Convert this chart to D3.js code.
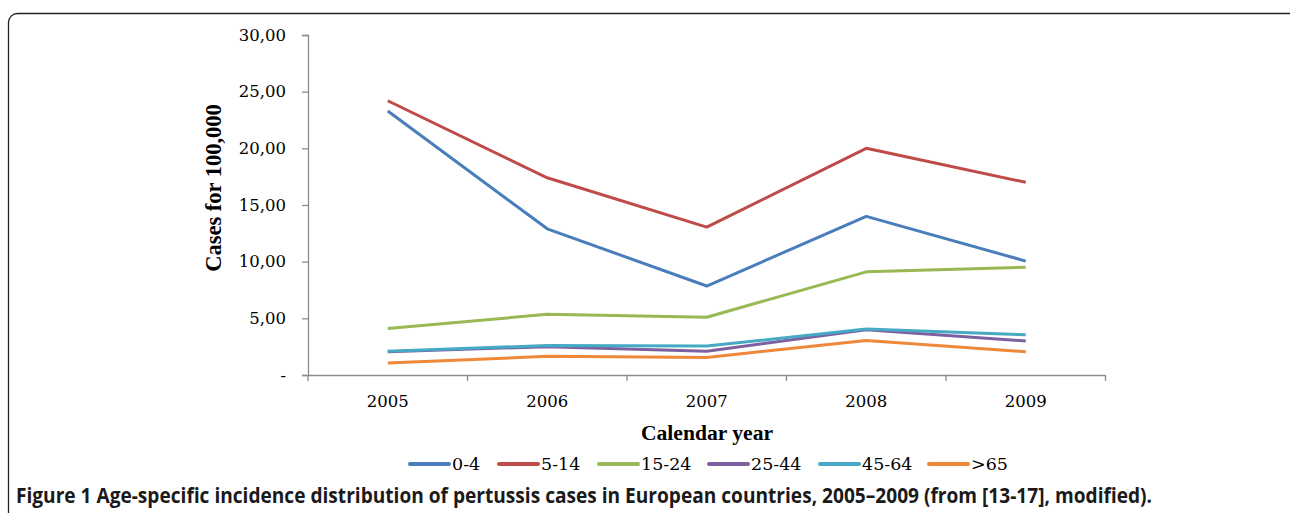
<!DOCTYPE html>
<html>
<head>
<meta charset="utf-8">
<script src="https://cdn.jsdelivr.net/npm/d3@7"></script>
<style>
  html, body { margin: 0; padding: 0; background: #fff; }
  svg { display: block; }
</style>
</head>
<body>
<svg id="chart" width="1290" height="513"></svg>
<script>
const years = ["2005", "2006", "2007", "2008", "2009"];
const seriesNames = ["0-4", "5-14", "15-24", "25-44", "45-64", ">65"];
const seriesColors = ["#4A7EBB", "#BE4B48", "#98B954", "#7D60A0", "#46AAC5", "#F0883A"];
const v0_4   = [23.3, 12.9, 7.85, 14.0, 10.05];
const v5_14  = [24.2, 17.4, 13.05, 20.0, 17.0];
const v15_24 = [4.1, 5.35, 5.1, 9.1, 9.5];
const v25_44 = [2.05, 2.5, 2.1, 4.0, 3.0];
const v45_64 = [2.1, 2.6, 2.55, 4.05, 3.55];
const v65    = [1.05, 1.65, 1.55, 3.05, 2.05];
const seriesValues = [v0_4, v5_14, v15_24, v25_44, v45_64, v65];
const yTicks = [0, 5, 10, 15, 20, 25, 30];
const yTitle = "Cases for 100,000";
const xTitle = "Calendar year";
const captionBold = "Figure 1";
const captionText = " Age-specific incidence distribution of pertussis cases in European countries, 2005\u20132009 (from [13-17], modified).";

const svg = d3.select("#chart");

// frame
svg.append("rect")
  .attr("x", 8.5).attr("y", 13.5)
  .attr("width", 1300).attr("height", 560)
  .attr("rx", 9).attr("ry", 9)
  .attr("fill", "none").attr("stroke", "#222").attr("stroke-width", 1.3);

const plotLeft = 308, plotRight = 1105.5, plotTop = 35, plotBottom = 375;
const x = d3.scaleBand().domain(years).range([plotLeft, plotRight]);
const y = d3.scaleLinear().domain([0, 30]).range([plotBottom, plotTop]);

const serif = "'DejaVu Serif', 'Liberation Serif', serif";
const tserif = "'Liberation Serif', 'DejaVu Serif', serif";
const axisColor = "#8c8c8c";

// y axis
const yAxis = svg.append("g").attr("transform", `translate(${plotLeft},0)`)
  .call(d3.axisLeft(y).tickValues(yTicks).tickSize(6).tickPadding(16)
    .tickFormat(d => d === 0 ? "-" : d3.format(".2f")(d).replace(".", ",")));
yAxis.select(".domain").attr("stroke", axisColor).attr("stroke-width", 1.3);
yAxis.selectAll(".tick line").attr("stroke", axisColor).attr("stroke-width", 1.3);
yAxis.selectAll(".tick text").attr("font-family", serif).attr("font-size", 16.5).attr("fill", "#000");

// x axis
const xAxis = svg.append("g").attr("transform", `translate(0,${plotBottom})`)
  .call(d3.axisBottom(x).tickSize(0));
xAxis.select(".domain").attr("stroke", axisColor).attr("stroke-width", 1.3);
xAxis.selectAll(".tick text").attr("font-family", serif).attr("font-size", 16.5).attr("fill", "#000")
  .attr("dy", null).attr("y", 32);
// boundary ticks
const bounds = years.map(d => x(d)).concat([plotRight]);
xAxis.selectAll(".bt").data(bounds).enter().append("line")
  .attr("x1", d => d).attr("x2", d => d).attr("y1", 0).attr("y2", 6)
  .attr("stroke", axisColor).attr("stroke-width", 1.3);

// lines
const line = d3.line()
  .x((d, i) => x(years[i]) + x.bandwidth() / 2)
  .y(d => y(d));
svg.append("g").selectAll("path").data(seriesValues).enter().append("path")
  .attr("d", d => line(d))
  .attr("fill", "none")
  .attr("stroke", (d, i) => seriesColors[i])
  .attr("stroke-width", 3)
  .attr("stroke-linejoin", "round");

// axis titles
svg.append("text")
  .attr("transform", `translate(221,188) rotate(-90)`)
  .attr("text-anchor", "middle")
  .attr("font-family", tserif).attr("font-weight", "bold").attr("font-size", 22.5)
  .text(yTitle);
svg.append("text")
  .attr("x", 707).attr("y", 440)
  .attr("text-anchor", "middle")
  .attr("font-family", tserif).attr("font-weight", "bold").attr("font-size", 21.6)
  .text(xTitle);

// legend
const legendX = [410, 499, 599, 709, 820, 929];
const lg = svg.append("g");
seriesNames.forEach((name, i) => {
  lg.append("line")
    .attr("x1", legendX[i]).attr("x2", legendX[i] + 39)
    .attr("y1", 464).attr("y2", 464)
    .attr("stroke", seriesColors[i]).attr("stroke-width", 4).attr("stroke-linecap", "round");
  lg.append("text")
    .attr("x", legendX[i] + 42).attr("y", 470)
    .attr("font-family", serif).attr("font-size", 17.5).attr("fill", "#000")
    .text(name);
});

// caption
const cap = svg.append("text")
  .attr("x", 16).attr("y", 503)
  .attr("font-family", "'Open Sans', 'Noto Sans', sans-serif")
  .attr("font-weight", "bold").attr("font-size", 20.5).attr("fill", "#1a1a1a");
cap.append("tspan").text(captionBold);
cap.append("tspan").text(captionText);
cap.attr("textLength", 1136).attr("lengthAdjust", "spacingAndGlyphs");
</script>
</body>
</html>
